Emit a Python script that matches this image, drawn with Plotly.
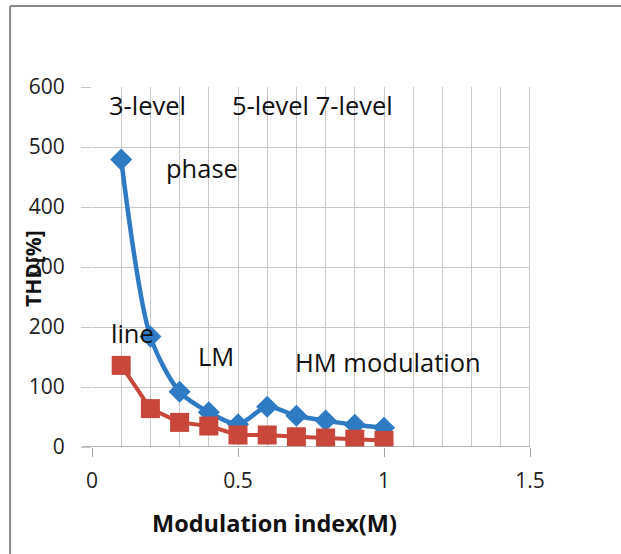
import plotly.graph_objects as go

m = [0.1, 0.2, 0.3, 0.4, 0.5, 0.6, 0.7, 0.8, 0.9, 1.0]
phase_thd = [479, 184, 92, 58, 38, 67, 52, 44, 37, 32]
line_thd = [136, 64, 41, 35, 20, 20, 17, 15, 13, 11]

x_ticks = [0, 0.5, 1, 1.5]
y_ticks = [0, 100, 200, 300, 400, 500, 600]

labels = [
    ("3-level", 0.050, 570),
    ("5-level 7-level", 0.474, 570),
    ("phase", 0.248, 465),
    ("line", 0.057, 190),
    ("LM", 0.355, 152),
    ("HM modulation", 0.69, 142),
]

FONT = "Open Sans, Lato, sans-serif"
fig = go.Figure()
fig.add_trace(go.Scatter(
    x=m, y=phase_thd, mode="lines+markers", line=dict(color="#2E7BC4", width=4.5, shape="spline", smoothing=0.8),
    marker=dict(symbol="diamond", size=17, color="#2E7BC4"), showlegend=False))
fig.add_trace(go.Scatter(
    x=m, y=line_thd, mode="lines+markers", line=dict(color="#C8473A", width=4),
    marker=dict(symbol="square", size=19, color="#C8473A"), showlegend=False))

for t, x, y in labels:
    fig.add_annotation(x=x, y=y, text=t, showarrow=False, xanchor="left",
                       font=dict(family=FONT, size=25.5, color="#111"))

fig.add_annotation(xref="paper", yref="paper", x=-0.135, y=0.497, text="<b>THD[%]</b>", textangle=-90,
                   xanchor="center", yanchor="middle",
                   showarrow=False, font=dict(family=FONT, size=21, color="#111"))
fig.add_annotation(xref="paper", yref="paper", x=0.416, y=-0.211, text="<b>Modulation index(M)</b>",
                   xanchor="center", yanchor="middle",
                   showarrow=False, font=dict(family=FONT, size=23.5, color="#111"))

fig.update_layout(
    width=621, height=554, paper_bgcolor="white", plot_bgcolor="white",
    margin=dict(l=92, r=91, t=87, b=107),
    font=dict(family=FONT, size=21, color="#222"),
    shapes=[
        dict(type="line", xref="paper", yref="paper", x0=-0.187, x1=-0.187, y0=1.225, y1=-0.5,
             line=dict(color="#888", width=2)),
        dict(type="line", xref="paper", yref="paper", x0=-0.187, x1=1.5, y0=1.225, y1=1.225,
             line=dict(color="#888", width=2)),
    ],
)
fig.update_xaxes(range=[0, 1.5], tickvals=x_ticks, ticktext=[str(v) for v in x_ticks],
                 showgrid=True, gridcolor="#c8c8c8", gridwidth=1,
                 minor=dict(dtick=0.1, showgrid=True, gridcolor="#c8c8c8"),
                 showline=False, zeroline=False, ticks="outside", ticklen=9, tickcolor="#a0a0a0",
                 ticklabelstandoff=6)
fig.update_yaxes(range=[0, 600], tickvals=y_ticks, showgrid=True, gridcolor="#c8c8c8", gridwidth=1,
                 zeroline=False, showline=False, ticks="outside", ticklen=10, tickcolor="#c8c8c8",
                 ticklabelstandoff=12)
fig.add_shape(type="line", xref="x", yref="paper", x0=1.5, x1=1.5, y0=0, y1=1, line=dict(color="#c8c8c8", width=2))
fig.add_shape(type="line", xref="paper", yref="y", x0=-0.023, x1=1, y0=0, y1=0, line=dict(color="#a0a0a0", width=1.5))
fig.write_html("out.html")
